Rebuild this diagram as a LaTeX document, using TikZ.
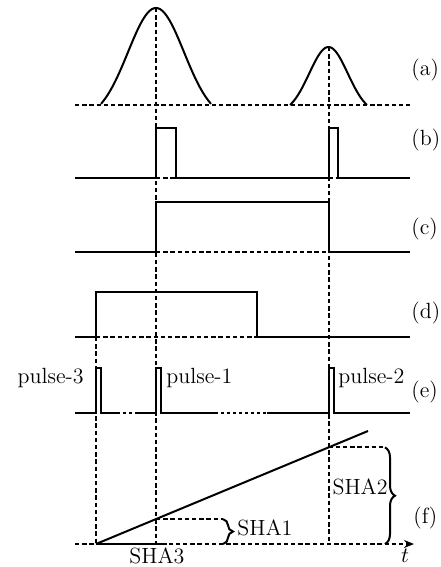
\documentclass[tikz,border=0pt]{standalone}
\usetikzlibrary{decorations.pathreplacing,arrows.meta}
\begin{document}
\begin{tikzpicture}[x=0.5pt,y=-0.5pt,
  sig/.style={line width=1pt, line join=miter},
  guide/.style={line width=1pt, dash pattern=on 2.2pt off 1.4pt},
  dotseg/.style={line width=1pt, dash pattern=on 1.3pt off 1.7pt},
  lbl/.style={font=\fontsize{11}{13}\selectfont, inner sep=0pt},
  brc/.style={line width=1pt, decorate, decoration={brace, amplitude=5pt}}]
\useasboundingbox (0,0) rectangle (440,567);

% vertical timing guides
\draw[guide] (156,8) -- (156,544);
\draw[guide] (328.5,47) -- (328.5,544);
\draw[guide] (96,337) -- (96,544);

% (a) optical pulses
\draw[guide] (75,105) -- (410,105);
\draw[sig] plot[domain=101:211, samples=70, smooth]
  (\x, {105 - 97*(exp(-((\x-156)^2)/1568) - 0.135)/0.865});
\draw[sig] plot[domain=290:367, samples=60, smooth]
  (\x, {105 - 58*(exp(-((\x-328.5)^2)/741) - 0.135)/0.865});

% (b) trigger pulses
\draw[sig] (75,178) -- (156,178) -- (156,128) -- (176,128) -- (176,178)
  -- (328.5,178) -- (328.5,128) -- (338,128) -- (338,178) -- (410,178);
\draw[guide] (156,178) -- (176,178);
\draw[guide] (328.5,178) -- (338,178);

% (c) gate
\draw[sig] (75,252) -- (156,252) -- (156,202) -- (328.5,202) -- (328.5,252) -- (410,252);
\draw[guide] (156,252) -- (328.5,252);

% (d) gate
\draw[sig] (75,337) -- (96,337) -- (96,292) -- (257,292) -- (257,337) -- (410,337);
\draw[guide] (96,337) -- (257,337);

% (e) sampling pulses
\draw[sig] (75,413) -- (96,413) -- (96,368) -- (101,368) -- (101,413) -- (117,413);
\draw[dotseg] (117,413) -- (137,413);
\draw[sig] (137,413) -- (156,413) -- (156,368) -- (161,368) -- (161,413) -- (215,413);
\draw[dotseg] (215,413) -- (267,413);
\draw[sig] (267,413) -- (328.5,413) -- (328.5,368) -- (334,368) -- (334,413) -- (410,413);

% (f) ramp and sampled levels
\coordinate (o) at (75,544);
\coordinate (tend) at (414,544);
\coordinate (r0) at (96,544);
\coordinate (r1) at (368,431);
\coordinate (s1) at (156,519.1);
\coordinate (s2) at (328.5,447.4);
\coordinate (s3) at (167,544);
\coordinate (b1t) at (223,519.1);
\coordinate (b1b) at (223,544);
\coordinate (b2t) at (385,447.4);
\coordinate (b2b) at (385,544);

\draw[guide, -{Stealth[length=5pt,width=4pt]}] (o) -- (tend);
\draw[sig] (r0) -- (r1);
\draw[sig] (r0) -- (s3);
\draw[guide] (s1) -- (b1t);
\draw[guide] (s2) -- (b2t);
\draw[brc] (b1t) -- (b1b);
\draw[brc] (b2t) -- (b2b);

% labels
\node[lbl, anchor=west] (la) at (411,70) {(a)};
\node[lbl, anchor=west] (lb) at (411,140) {(b)};
\node[lbl, anchor=west] (lc) at (411,229) {(c)};
\node[lbl, anchor=west] (ld) at (411,313) {(d)};
\node[lbl, anchor=west] (le) at (411,392) {(e)};
\node[lbl, anchor=west] (lf) at (413,518) {(f)};
\node[lbl, anchor=base east] (p3) at (84,383) {pulse-3};
\node[lbl, anchor=base west] (p1) at (166,383) {pulse-1};
\node[lbl, anchor=base west] (p2) at (338,383) {pulse-2};
\node[lbl, anchor=west] (sha1) at (237,528) {SHA1};
\node[lbl, anchor=east] (sha2) at (388,487) {SHA2};
\node[lbl] (sha3) at (157,556) {SHA3};
\node[lbl] (tl) at (405,556) {$t$};
\end{tikzpicture}
\end{document}
